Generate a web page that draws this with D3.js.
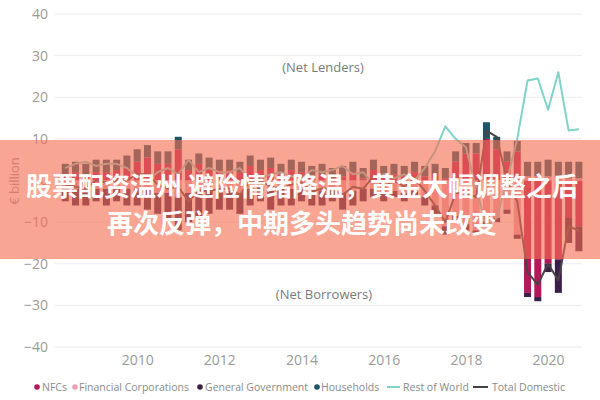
<!DOCTYPE html>
<html><head><meta charset="utf-8">
<script src="https://cdn.jsdelivr.net/npm/d3@7"></script>
<style>body{margin:0;background:#fff}svg{display:block}</style>
</head><body>
<svg id="c" width="600" height="400"></svg>
<script>
// quarters 2008Q2 .. 2020Q4
const quarters = d3.range(51).map(i => 2008.25 + i * 0.25);
const nfc = [1.5,2,1.5,2,2,2.5,3,4.5,5.5,4,4,7.5,2.5,4,3,2.5,2.5,2,3.5,2.5,3,1.5,2.5,2,1,1.5,0.5,1,2,0.5,2.5,1,1.5,1,2,1,1.5,0.5,4.5,6.5,6.5,10,7.5,4.5,7,-27,-28,-20,-19,-9,-11];
const finCorp = [-2,-2,-2.5,-2,-2,-1.5,-2,-2,-2,-3,-3,-4,-3,-2.5,-2,-2,-2.5,-3,-2,-1.5,-2.5,-2,-2,-2,-2.5,-2.5,-2,-3,-2.5,-2,-2,-3,-2.5,-3,-2.5,-4,-6,-11,-8.5,-10.5,-12,-10,-9,-7,-13,1,1,1,0.5,0.5,0.5];
const genGov = [-3,-4,-3.5,-3,-4,-3.5,-4,-4,-5,-5,-6,-8,-7,-6.5,-6,-5,-4.5,-5,-4,-3.5,-4.5,-4,-4,-3,-3.5,-3.5,-3,-4,-3.5,-3,-2,-2,-1.5,-2,-1.5,-2,-2,-2,-1.5,-1.5,-1,-1,-1,-1,-1,-1,-1,-2,-8,-6,-6];
const households = [2.5,2.5,2.5,3,3,2.5,3,3,3,3,3,3,2.5,2.5,2.5,2.5,2.5,2.5,2.5,2.5,2.5,2.5,2.5,2.5,2.5,2.5,2.5,2.5,2.5,2.5,2.5,2.5,2.5,2.5,2.5,2.5,2.5,2.5,2.5,2.5,2.5,4,3,2.5,2.5,3.5,3.5,4,4,4,4];
const restOfWorld = [3,4,4.5,3.5,4,4,3,1,0,2,3,1.5,5,2,3,2,2,3,0,0.5,1.5,2,1,0.5,2.5,2,2.5,3.5,1.5,2,-1,1.5,0.5,1.5,0,3,7,13,10,8,-2,-11,-9,0,10,24,24.5,17,26,12,12.3];
const totalDomestic = [-1,-1.5,-2,0,-0.5,0,0,1.5,1.5,-1,-2,-1.5,-5,-2.5,-2.5,-2,-2,-3.5,0,0,-1.5,-2,-1,-0.5,-2.5,-2,-2,-3.5,-1.5,-2,1,-1.5,0,-1.5,0.5,-2.5,-6,-10,-3,-3,-4,12,10.5,0,-5,-22,-25,-20,-24,-11,-12];
const yTicks = [-40,-30,-20,-10,0,10,20,30,40];
const xTicks = [2010,2012,2014,2016,2018,2020];
const sectors = ["NFCs","Financial Corporations","General Government","Households"];
const sectorColors = ["#b3185a","#eaa2b8","#3a1f4a","#1d5468"];
const lineNames = ["Rest of World","Total Domestic"];
const lineColors = ["#7fd3c9","#4a4346"];
const bannerLines = ["股票配资温州 避险情绪降温，黄金大幅调整之后","再次反弹，中期多头趋势尚未改变"];

const svg = d3.select("#c");
const x = d3.scaleLinear().domain([2008.0, 2020.85]).range([55, 583]);
const y = d3.scaleLinear().domain([-40, 40]).range([347, 14]);
const font = "'Open Sans', 'Noto Sans', sans-serif";

// grid
svg.append("g").selectAll("line").data(yTicks).join("line")
  .attr("x1", 55).attr("x2", 582).attr("y1", d => y(d)).attr("y2", d => y(d))
  .attr("stroke", "#ececec").attr("stroke-width", 1);

// y axis
const yAxis = d3.axisLeft(y).tickValues(yTicks).tickSize(0).tickPadding(4);
const ga = svg.append("g").attr("transform", "translate(52,0)").call(yAxis);
ga.select(".domain").remove();
ga.selectAll("text").attr("fill", "#9a9a9a").style("font-family", font).style("font-size", "14px");

const xAxis = d3.axisBottom(x).tickValues(xTicks).tickFormat(d3.format("d")).tickSize(0).tickPadding(0);
const gx = svg.append("g").attr("transform", "translate(0,355)").call(xAxis);
gx.select(".domain").remove();
gx.selectAll("text").attr("fill", "#9a9a9a").style("font-family", font).style("font-size", "14px");

svg.append("text").attr("transform", "translate(19,181) rotate(-90)")
  .attr("text-anchor", "middle").attr("fill", "#9a9a9a")
  .style("font-family", font).style("font-size", "13px").text("€ billion");

// annotations
svg.append("text").attr("x", 323).attr("y", 72).attr("text-anchor", "middle")
  .attr("fill", "#7a7a7a").style("font-family", font).style("font-size", "13px").text("(Net Lenders)");
svg.append("text").attr("x", 324).attr("y", 299).attr("text-anchor", "middle")
  .attr("fill", "#7a7a7a").style("font-family", font).style("font-size", "13px").text("(Net Borrowers)");

// stacked bars
const table = quarters.map((q, i) => ({q, s0: nfc[i], s1: finCorp[i], s2: genGov[i], s3: households[i]}));
const stack = d3.stack().keys(["s0","s1","s2","s3"]).offset(d3.stackOffsetDiverging);
const series = stack(table);
const bw = 7;
svg.append("g").selectAll("g").data(series).join("g")
  .attr("fill", (d, i) => sectorColors[i])
  .selectAll("rect").data(d => d).join("rect")
  .attr("x", d => x(d.data.q) - bw / 2).attr("width", bw)
  .attr("y", d => y(Math.max(d[0], d[1])))
  .attr("height", d => Math.abs(y(d[0]) - y(d[1])));

// lines
const lineGen = d3.line().x(d => x(d[0])).y(d => y(d[1]));
[restOfWorld, totalDomestic].forEach((arr, k) => {
  svg.append("path").datum(quarters.map((q, i) => [q, arr[i]]))
    .attr("d", lineGen).attr("fill", "none").attr("stroke", lineColors[k])
    .attr("stroke-width", 2).attr("stroke-linejoin", "round");
});

// legend
const lg = svg.append("g").style("font-family", font).style("font-size", "10.5px");
const dotItems = [[37, 0], [75, 1], [200, 2], [317, 3]];
const dotText = [42, 79, 205, 321];
dotItems.forEach(([px, i], k) => {
  lg.append("circle").attr("cx", px).attr("cy", 387).attr("r", 2.8).attr("fill", sectorColors[i]);
  lg.append("text").attr("x", dotText[k]).attr("y", 391).attr("fill", "#8a8a8a").text(sectors[i]);
});
[[387, 400, 403], [473, 488, 492]].forEach(([a, b, t], k) => {
  lg.append("line").attr("x1", a).attr("x2", b).attr("y1", 387).attr("y2", 387)
    .attr("stroke", lineColors[k]).attr("stroke-width", 2);
  lg.append("text").attr("x", t).attr("y", 391).attr("fill", "#8a8a8a").text(lineNames[k]);
});

// banner overlay
svg.append("rect").attr("x", 0).attr("y", 140).attr("width", 600).attr("height", 119)
  .attr("fill", "rgb(245,110,80)").attr("fill-opacity", 0.62);
bannerLines.forEach((t, i) => {
  svg.append("text").attr("x", 302).attr("y", 184 + i * 37).attr("text-anchor", "middle")
    .attr("dominant-baseline", "central").attr("fill", "#fff")
    .style("font-family", "'Noto Sans CJK SC', sans-serif").style("font-weight", "700")
    .style("font-size", "26px").text(t);
});
</script>
</body></html>
